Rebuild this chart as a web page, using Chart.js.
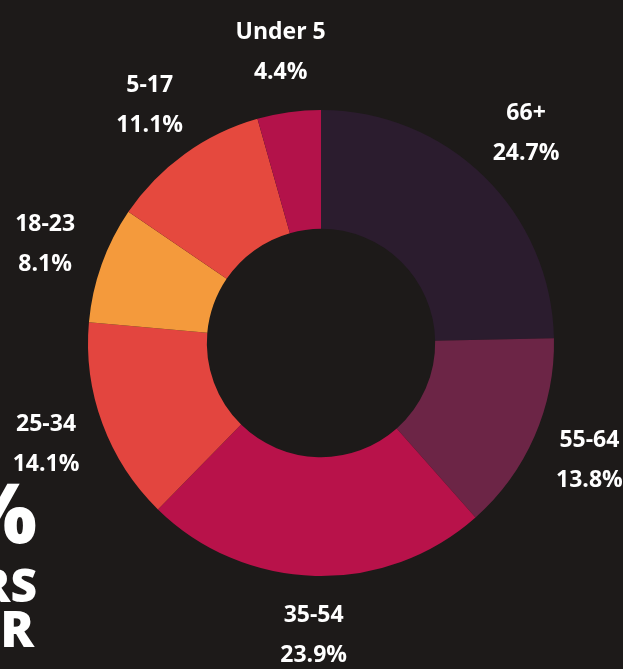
<!DOCTYPE html>
<html>
<head>
<meta charset="utf-8">
<script src="https://cdn.jsdelivr.net/npm/chart.js@4/dist/chart.umd.min.js"></script>
<style>
    html, body { margin: 0; padding: 0; background: #1d1a19; overflow: hidden; }
    #wrap { position: relative; width: 623px; height: 669px; }
    .side { position: absolute; right: calc(100% - 37px); white-space: nowrap; color: #fff;
        font-family: "Open Sans", sans-serif; font-weight: 800; text-align: right; }
</style>
</head>
<body>
<div id="wrap">
    <canvas id="age_chart" width="623" height="669"></canvas>
    <div class="side" style="top:466px;font-size:84px;line-height:90px;">40%</div>
    <div class="side" style="top:560px;font-size:46px;line-height:48px;">YEARS</div>
    <div class="side" style="top:604px;font-size:50px;line-height:48px;right:calc(100% - 34px);">R</div>
</div>
<script>
// age groups, clockwise from the top
const age_groups = ['66+', '55-64', '35-54', '25-34', '18-23', '5-17', 'Under 5'];
const age_shares = [24.7, 13.8, 23.9, 14.1, 8.1, 11.1, 4.4];
const age_colors = ['#2b1c2e', '#6c2546', '#b8124a', '#e3453f', '#f49a3c', '#e5493e', '#b3124a'];

// writes group name + percent outside each slice
const outsideLabels = {
    id: 'outsideLabels',
    afterDatasetsDraw(chart){
        const ctx = chart.ctx;
        const meta = chart.getDatasetMeta(0);
        ctx.save();
        ctx.fillStyle = '#ffffff';
        ctx.textAlign = 'center';
        ctx.textBaseline = 'middle';
        ctx.font = 'bold 23px "Open Sans", sans-serif';
        meta.data.forEach((arc, i) => {
            const mid = (arc.startAngle + arc.endAngle) / 2;
            const r = arc.outerRadius + 60;
            const x = arc.x + Math.cos(mid) * r;
            const y = arc.y + Math.sin(mid) * r;
            ctx.fillText(age_groups[i], x, y - 20);
            ctx.fillText(age_shares[i].toFixed(1) + '%', x, y + 20);
        });
        ctx.restore();
    }
};

const ctx = document.getElementById('age_chart').getContext('2d');
const age_chart = new Chart(ctx, {
    type: 'doughnut',
    data: {
        labels: age_groups,
        datasets: [{
            data: age_shares,
            backgroundColor: age_colors,
            borderWidth: 0
        }]
    },
    options: {
        responsive: false,
        animation: false,
        cutout: '49%',
        layout: {
            padding: { left: 88, right: 69, top: 108, bottom: 91 }
        },
        plugins: {
            legend: { display: false },
            tooltip: { enabled: false }
        }
    },
    plugins: [outsideLabels]
});
</script>
</body>
</html>
